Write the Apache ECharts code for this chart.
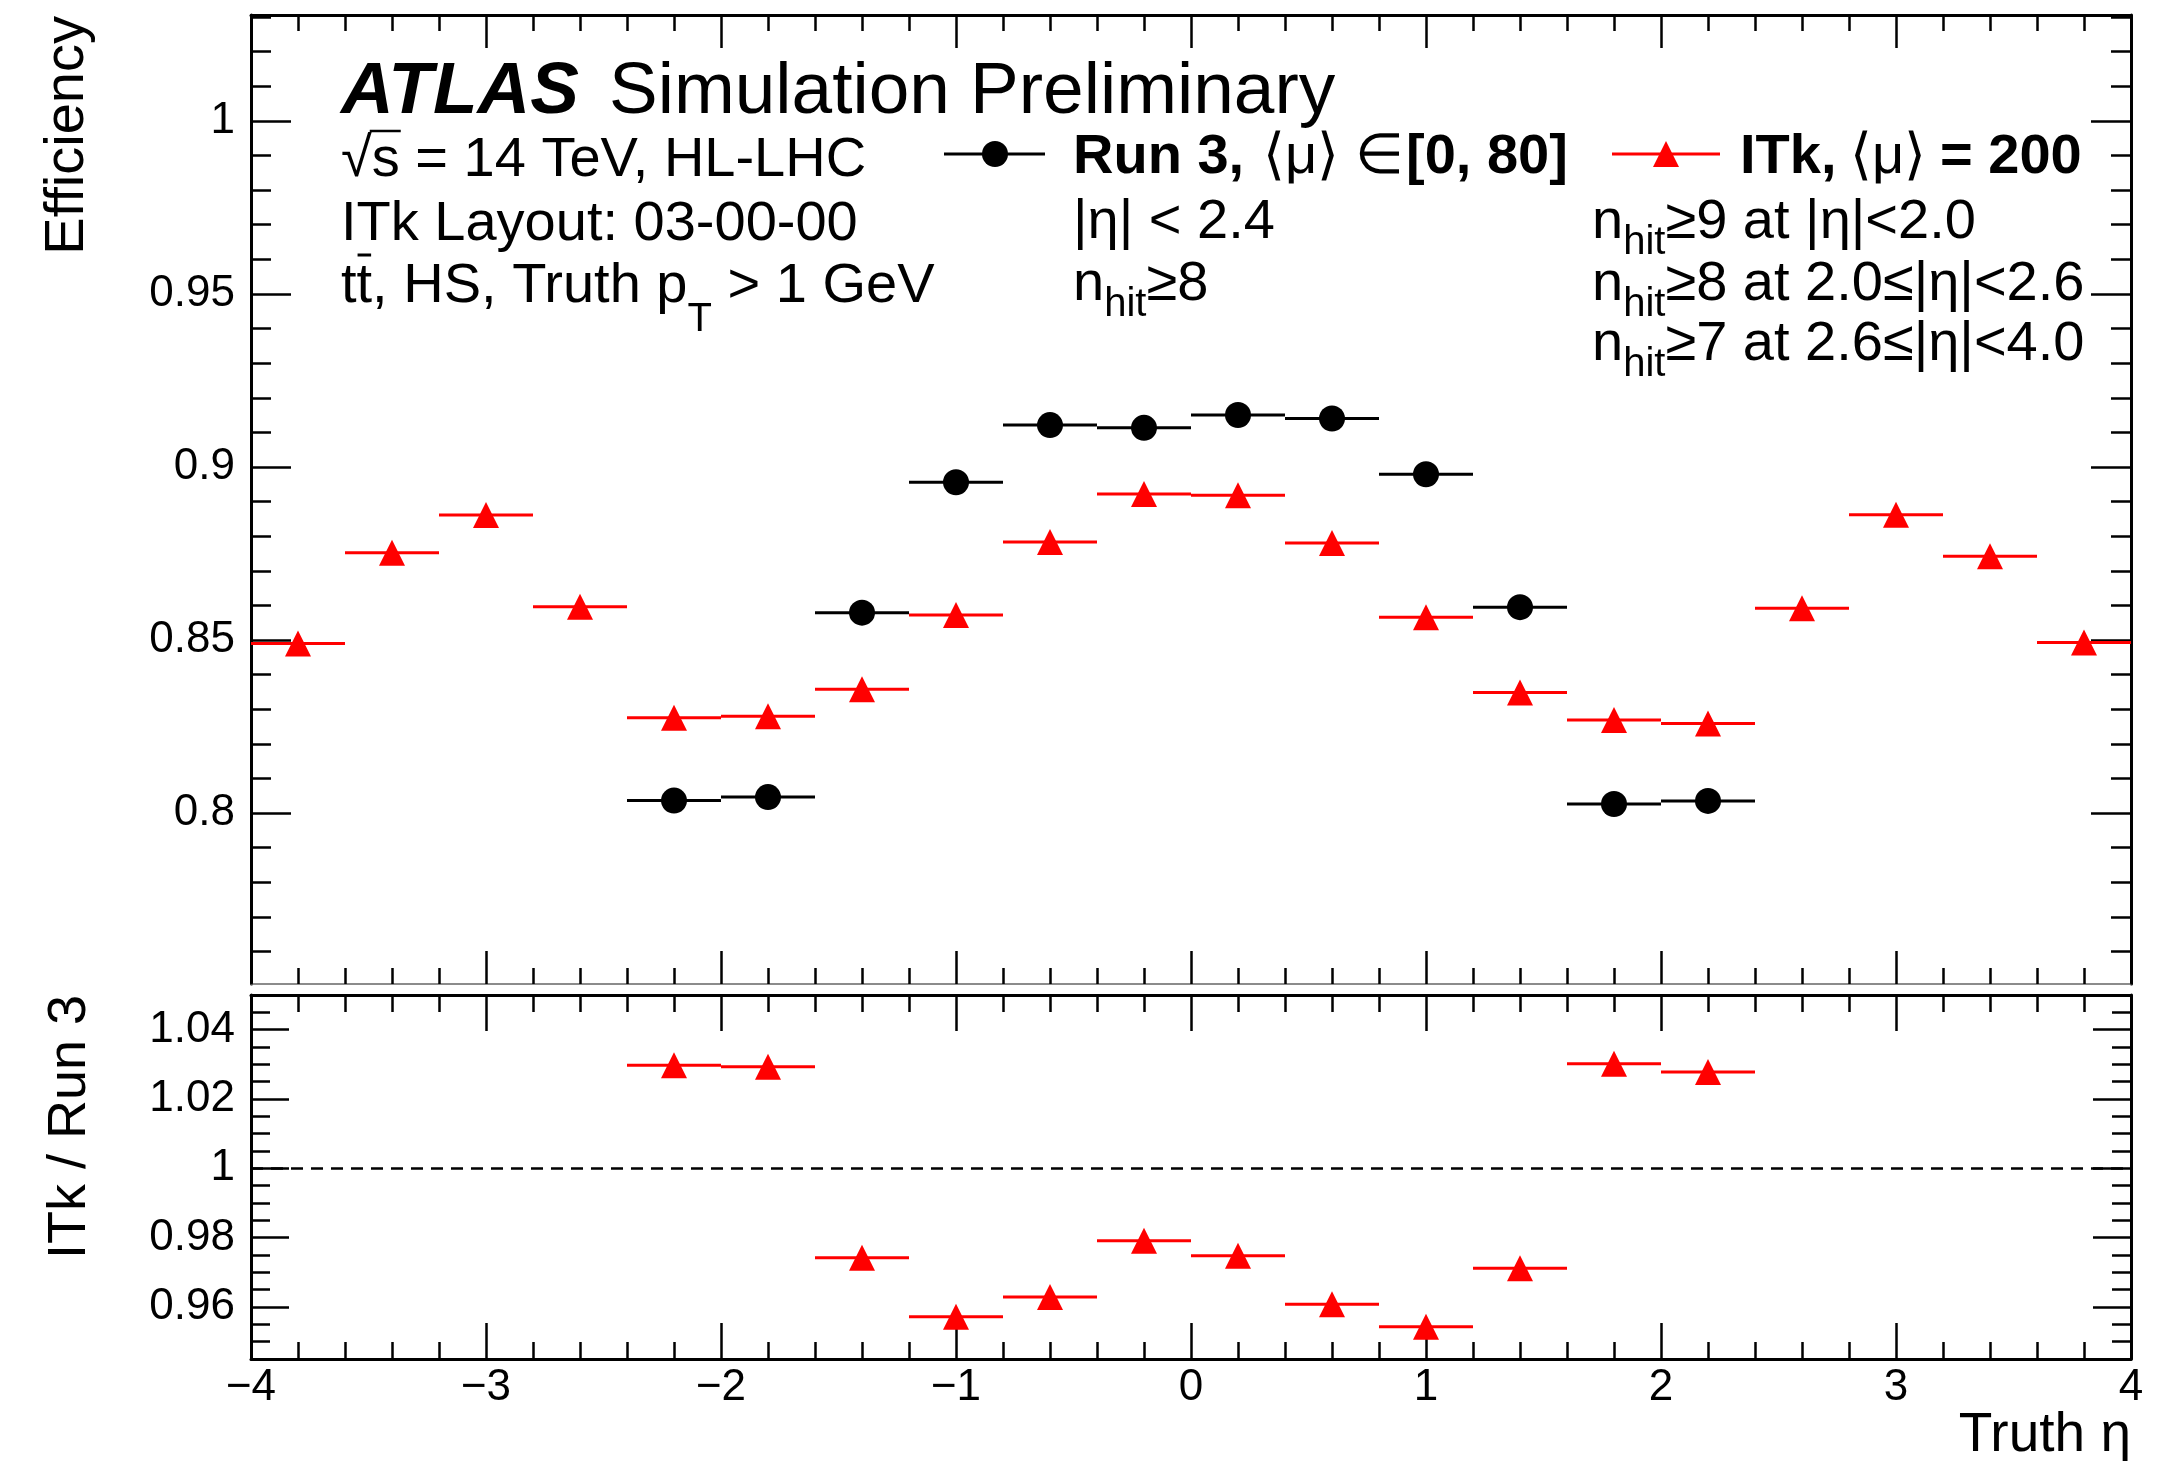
<!DOCTYPE html>
<html><head><meta charset="utf-8">
<script src="https://cdn.jsdelivr.net/npm/echarts@6/dist/echarts.min.js"></script>
<style>html,body{margin:0;padding:0;background:#fff;}#c{width:2157px;height:1461px;}</style>
</head><body><div id="c"></div>
<script>
// ---------------- data ----------------
const etaAll = [-3.8,-3.4,-3.0,-2.6,-2.2,-1.8,-1.4,-1.0,-0.6,-0.2,0.2,0.6,1.0,1.4,1.8,2.2,2.6,3.0,3.4,3.8];
const itkEff = [0.849,0.8752,0.8861,0.8596,0.8275,0.828,0.8358,0.8572,0.8783,0.8922,0.8918,0.878,0.8566,0.8348,0.8269,0.8259,0.8592,0.8862,0.8742,0.8493];
const run3Eta = [-2.2,-1.8,-1.4,-1.0,-0.6,-0.2,0.2,0.6,1.0,1.4,1.8,2.2];
const run3Eff = [0.8036,0.8046,0.8579,0.8956,0.9121,0.9113,0.915,0.914,0.8979,0.8595,0.8026,0.8035];
const ratioVal = [1.0297,1.0293,0.9742,0.9572,0.9629,0.9791,0.9748,0.9608,0.9543,0.9712,1.0302,1.0278];
const etaHalfWidth = 0.2;
const xTicks = [-4,-3,-2,-1,0,1,2,3,4];
const effTicks = [0.8,0.85,0.9,0.95,1];
const ratioTicks = [0.96,0.98,1,1.02,1.04];
const effRange = [0.7506, 1.0306];
const ratioRange = [0.945, 1.05];
const effMinorStep = 0.01, ratioMinorStep = 0.005, etaMinorStep = 0.2;

// ---------------- helpers ----------------
const FF = '"Liberation Sans", Arial, Helvetica, sans-serif';
function minorTicks(lo, hi, step){ const a=[]; let k=Math.ceil(lo/step-1e-6); for(;k*step<hi-1e-6;k++){ const v=+(k*step).toFixed(6); if(v>lo+1e-6) a.push(v); } return a; }
const effMinor = minorTicks(effRange[0], effRange[1], effMinorStep);
const ratioMinor = minorTicks(ratioRange[0], ratioRange[1], ratioMinorStep);

const mctx = document.createElement('canvas').getContext('2d');
function tw(t, f){ mctx.font=f; return mctx.measureText(t).width; }
function midOff(f){ mctx.font=f; mctx.textBaseline='middle'; const m=mctx.measureText('H'); mctx.textBaseline='alphabetic'; return m.actualBoundingBoxDescent; }
function txt(x, base, s, f, color){
  return {type:'text', silent:true, x:x, y:base-midOff(f), style:{text:s, font:f, fill:color||'#000', align:'left', verticalAlign:'middle', textAlign:'left', textVerticalAlign:'middle'}};
}
function seq(x, base, parts){ const out=[]; let cx=x; parts.forEach(p=>{ out.push(txt(cx, base+(p[2]||0), p[0], p[1])); cx+=tw(p[0],p[1]); }); return out; }
function hbar(color){
  return function(params, api){
    const x=api.value(0), y=api.value(1);
    const p1=api.coord([x-etaHalfWidth,y]), p2=api.coord([x+etaHalfWidth,y]);
    return {type:'line', shape:{x1:p1[0],y1:p1[1],x2:p2[0],y2:p2[1]}, style:{stroke:color, lineWidth:3}};
  };
}
const K='#000', RED='#ff0000';
function tick(len){ return {show:true, inside:true, length:len, lineStyle:{color:K, width:2.5}}; }
function frame(w, c){ return {show:w>0, onZero:false, lineStyle:{color:c||K, width:w}}; }
const noLab={show:false};
function xa(grid,pos,major,len,line,lab){
  return {type:'value', gridIndex:grid, position:pos, min:xTicks[0], max:xTicks[xTicks.length-1],
    interval: major?1:etaMinorStep, axisLine: line||frame(0), axisTick:tick(len), splitLine:{show:false}, axisLabel: lab||noLab};
}
function ya(grid,pos,range,vals,len,line,lab){
  const t=tick(len); t.customValues=vals;
  const l=lab?Object.assign({customValues:vals},lab):noLab;
  return {type:'value', gridIndex:grid, position:pos, min:range[0], max:range[1], axisLine: line||frame(0), axisTick:t, splitLine:{show:false}, axisLabel:l};
}
const labStyle={show:true, color:K, fontFamily:FF, fontSize:44};
const xLab=Object.assign({}, labStyle, {margin:7, formatter:v=> v<0 ? '\u2212'+Math.abs(v) : String(v)});
const yLab=Object.assign({}, labStyle, {margin:16});

const xAxis=[
  xa(0,'bottom',true,33,frame(1.5,'#666')), xa(0,'bottom',false,16),
  xa(0,'top',true,33,frame(3)), xa(0,'top',false,16),
  xa(1,'bottom',true,36,frame(3),xLab), xa(1,'bottom',false,17),
  xa(1,'top',true,36,frame(3)), xa(1,'top',false,17)
];
const yAxis=[
  ya(0,'left',effRange,effTicks,40,frame(3),yLab), ya(0,'left',effRange,effMinor,20),
  ya(0,'right',effRange,effTicks,40,frame(3)), ya(0,'right',effRange,effMinor,20),
  ya(1,'left',ratioRange,ratioTicks,38,frame(3),yLab), ya(1,'left',ratioRange,ratioMinor,19),
  ya(1,'right',ratioRange,ratioTicks,38,frame(3)), ya(1,'right',ratioRange,ratioMinor,19)
];

// ---------------- text ----------------
const R56='56px '+FF, B56='bold 56px '+FF, S40='40px '+FF;
const T73='73px '+FF, BI73='italic bold 73px '+FF;
let g=[];
g.push(txt(341,113,'ATLAS',BI73));
g.push(txt(609,113,'Simulation Preliminary',T73));
g=g.concat(seq(341,176,[['\u221A',R56],['s = 14 TeV, HL-LHC',R56]]));
(function(){ const x0=341+tw('\u221A',R56); g.push({type:'line',silent:true,shape:{x1:x0-2,y1:176-45,x2:x0+tw('s',R56)+1,y2:176-45},style:{stroke:K,lineWidth:2.5}}); })();
g.push(txt(341,240,'ITk Layout: 03-00-00',R56));
g=g.concat(seq(341,302,[['tt',R56],[', HS, Truth p',R56],['T',S40,29],[' > 1 GeV',R56]]));
(function(){ const x0=341+tw('t',R56); g.push({type:'line',silent:true,shape:{x1:x0+1,y1:302-47,x2:x0+tw('t',R56)-1,y2:302-47},style:{stroke:K,lineWidth:3}}); })();
// legend Run 3
g.push({type:'line',silent:true,shape:{x1:944,y1:154,x2:1045,y2:154},style:{stroke:K,lineWidth:3}});
g.push({type:'circle',silent:true,shape:{cx:995,cy:154,r:13},style:{fill:K}});
g.push(txt(1073,173,'Run 3,',B56));
g.push(txt(1263,173,'\u27E8\u03BC\u27E9',R56));
g.push(txt(1355,173,'\u2208',R56));
g.push(txt(1406,173,'[0, 80]',B56));
g.push(txt(1073,238,'|\u03B7| < 2.4',R56));
g=g.concat(seq(1073,300,[['n',R56],['hit',S40,16],['\u22658',R56]]));
// legend ITk
g.push({type:'line',silent:true,shape:{x1:1612,y1:154,x2:1720,y2:154},style:{stroke:RED,lineWidth:3}});
g.push({type:'polygon',silent:true,shape:{points:[[1666,141],[1679,167],[1653,167]]},style:{fill:RED}});
g.push(txt(1740,173,'ITk,',B56));
g.push(txt(1850,173,'\u27E8\u03BC\u27E9',R56));
g.push(txt(1940,173,'= 200',B56));
g=g.concat(seq(1592,238,[['n',R56],['hit',S40,16],['\u22659 at |\u03B7|<2.0',R56]]));
g=g.concat(seq(1592,300,[['n',R56],['hit',S40,16],['\u22658 at 2.0\u2264|\u03B7|<2.6',R56]]));
g=g.concat(seq(1592,360,[['n',R56],['hit',S40,16],['\u22657 at 2.6\u2264|\u03B7|<4.0',R56]]));
// axis titles
const TT='56px '+FF;
g.push({type:'text',silent:true,x:68,y:16,rotation:Math.PI/2,style:{text:'Efficiency',font:TT,fill:K,align:'right',verticalAlign:'middle',textAlign:'right',textVerticalAlign:'middle'}});
g.push({type:'text',silent:true,x:70,y:995,rotation:Math.PI/2,style:{text:'ITk / Run 3',font:'54px '+FF,fill:K,align:'right',verticalAlign:'middle',textAlign:'right',textVerticalAlign:'middle'}});
(function(){ const f='55px '+FF; const t=txt(2131,1451,'Truth \u03B7',f); t.style.align='right'; t.style.textAlign='right'; g.push(t); })();

// ---------------- chart ----------------
const chart=echarts.init(document.getElementById('c'),null,{renderer:'canvas',width:2157,height:1461});
chart.setOption({
  animation:false,
  backgroundColor:'#fff',
  grid:[{left:251,top:15,width:1880,height:969},{left:251,top:995,width:1880,height:364}],
  xAxis:xAxis, yAxis:yAxis,
  series:[
    {type:'custom',name:'ITk bins',xAxisIndex:0,yAxisIndex:0,renderItem:hbar(RED),data:etaAll.map((x,i)=>[x,itkEff[i]]),z:2},
    {type:'custom',name:'Run 3 bins',xAxisIndex:0,yAxisIndex:0,renderItem:hbar(K),data:run3Eta.map((x,i)=>[x,run3Eff[i]]),z:2},
    {type:'scatter',name:'ITk',xAxisIndex:0,yAxisIndex:0,symbol:'triangle',symbolSize:26,itemStyle:{color:RED,opacity:1},data:etaAll.map((x,i)=>[x,itkEff[i]]),z:3},
    {type:'scatter',name:'Run 3',xAxisIndex:0,yAxisIndex:0,symbol:'circle',symbolSize:26,itemStyle:{color:K,opacity:1},data:run3Eta.map((x,i)=>[x,run3Eff[i]]),z:4},
    {type:'custom',name:'Ratio bins',xAxisIndex:4,yAxisIndex:4,renderItem:hbar(RED),data:run3Eta.map((x,i)=>[x,ratioVal[i]]),z:2},
    {type:'scatter',name:'Ratio',xAxisIndex:4,yAxisIndex:4,symbol:'triangle',symbolSize:26,itemStyle:{color:RED,opacity:1},data:run3Eta.map((x,i)=>[x,ratioVal[i]]),z:3,
      markLine:{silent:true,symbol:'none',label:{show:false},lineStyle:{color:K,type:[12,8],width:2.5},data:[{yAxis:1}]}}
  ],
  graphic:g
});
</script></body></html>
